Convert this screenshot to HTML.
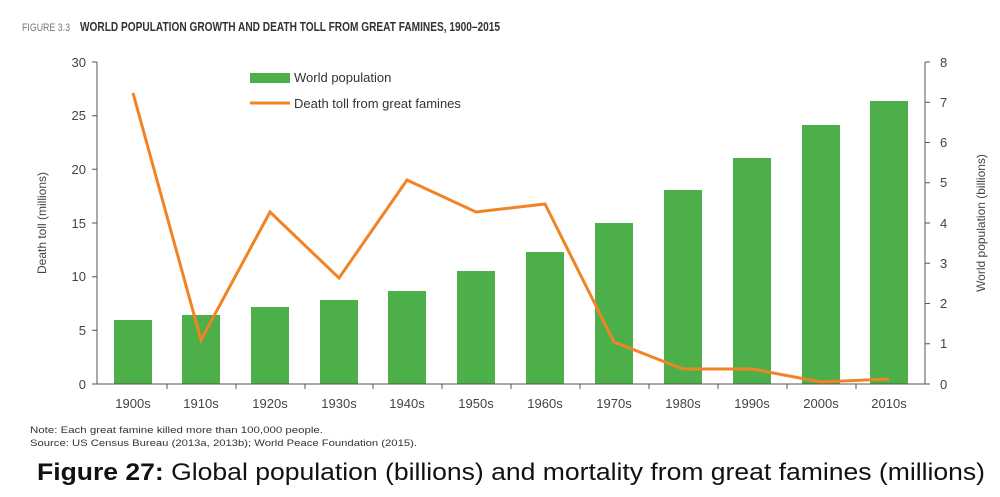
<!DOCTYPE html>
<html><head><meta charset="utf-8"><style>
html,body{margin:0;padding:0;background:#fff;width:1000px;height:497px;overflow:hidden}
</style></head><body>
<svg width="1000" height="497" viewBox="0 0 1000 497" xmlns="http://www.w3.org/2000/svg" font-family="Liberation Sans, sans-serif">
<text x="22" y="31" font-size="11" fill="#777" textLength="48" lengthAdjust="spacingAndGlyphs">FIGURE 3.3</text>
<text x="80" y="31" font-size="13" font-weight="bold" fill="#333" textLength="420" lengthAdjust="spacingAndGlyphs">WORLD POPULATION GROWTH AND DEATH TOLL FROM GREAT FAMINES, 1900–2015</text>
<g fill="#4caf4a">
<rect x="114" y="320" width="38" height="64"/>
<rect x="182" y="315" width="38" height="69"/>
<rect x="251" y="307" width="38" height="77"/>
<rect x="320" y="300" width="38" height="84"/>
<rect x="388" y="291" width="38" height="93"/>
<rect x="457" y="271" width="38" height="113"/>
<rect x="526" y="252" width="38" height="132"/>
<rect x="595" y="223" width="38" height="161"/>
<rect x="664" y="190" width="38" height="194"/>
<rect x="733" y="158" width="38" height="226"/>
<rect x="802" y="125" width="38" height="259"/>
<rect x="870" y="101" width="38" height="283"/>
</g>
<g stroke="#555" stroke-width="1" fill="none">
<line x1="97" y1="62" x2="97" y2="384"/>
<line x1="925" y1="62" x2="925" y2="384"/>
<line x1="97" y1="384" x2="925" y2="384"/>
<path d="M92 62H97M92 115.7H97M92 169.3H97M92 223H97M92 276.7H97M92 330.3H97M92 384H97"/>
<path d="M925 62H930M925 102.25H930M925 142.5H930M925 182.75H930M925 223H930M925 263.25H930M925 303.5H930M925 343.75H930M925 384H930"/>
<path d="M167 384V389M236 384V389M305 384V389M373 384V389M442 384V389M511 384V389M580 384V389M649 384V389M718 384V389M787 384V389M856 384V389"/>
</g>
<polyline fill="none" stroke="#f08424" stroke-width="3" stroke-linejoin="miter" points="133,93 201,340 270,212 339,278 407,180 476,212 545,204 614,342 683,369 752,369 821,382 889,379"/>
<g font-size="13" fill="#444" text-anchor="end">
<text x="86" y="67">30</text><text x="86" y="120">25</text><text x="86" y="174">20</text><text x="86" y="228">15</text><text x="86" y="281">10</text><text x="86" y="335">5</text><text x="86" y="389">0</text>
</g>
<g font-size="13" fill="#444">
<text x="940" y="67">8</text><text x="940" y="107">7</text><text x="940" y="147">6</text><text x="940" y="187">5</text><text x="940" y="228">4</text><text x="940" y="268">3</text><text x="940" y="308">2</text><text x="940" y="348">1</text><text x="940" y="389">0</text>
</g>
<g font-size="13" fill="#444" text-anchor="middle">
<text x="133" y="408">1900s</text><text x="201" y="408">1910s</text><text x="270" y="408">1920s</text><text x="339" y="408">1930s</text><text x="407" y="408">1940s</text><text x="476" y="408">1950s</text><text x="545" y="408">1960s</text><text x="614" y="408">1970s</text><text x="683" y="408">1980s</text><text x="752" y="408">1990s</text><text x="821" y="408">2000s</text><text x="889" y="408">2010s</text>
</g>
<text transform="translate(46,223) rotate(-90)" font-size="12" fill="#444" text-anchor="middle">Death toll (millions)</text>
<text transform="translate(985,223) rotate(-90)" font-size="12" fill="#444" text-anchor="middle">World population (billions)</text>
<rect x="250" y="73" width="40" height="10" fill="#4caf4a"/>
<text x="294" y="82" font-size="13" fill="#333">World population</text>
<line x1="250" y1="103" x2="290" y2="103" stroke="#f08424" stroke-width="3"/>
<text x="294" y="108" font-size="13" fill="#333">Death toll from great famines</text>
<text x="30" y="433" font-size="9" fill="#333" textLength="293" lengthAdjust="spacingAndGlyphs">Note: Each great famine killed more than 100,000 people.</text>
<text x="30" y="446" font-size="9" fill="#333" textLength="387" lengthAdjust="spacingAndGlyphs">Source: US Census Bureau (2013a, 2013b); World Peace Foundation (2015).</text>
<text x="37" y="480" font-size="24" fill="#111" textLength="948" lengthAdjust="spacingAndGlyphs"><tspan font-weight="bold">Figure 27:</tspan> Global population (billions) and mortality from great famines (millions)</text>
</svg>
</body></html>
